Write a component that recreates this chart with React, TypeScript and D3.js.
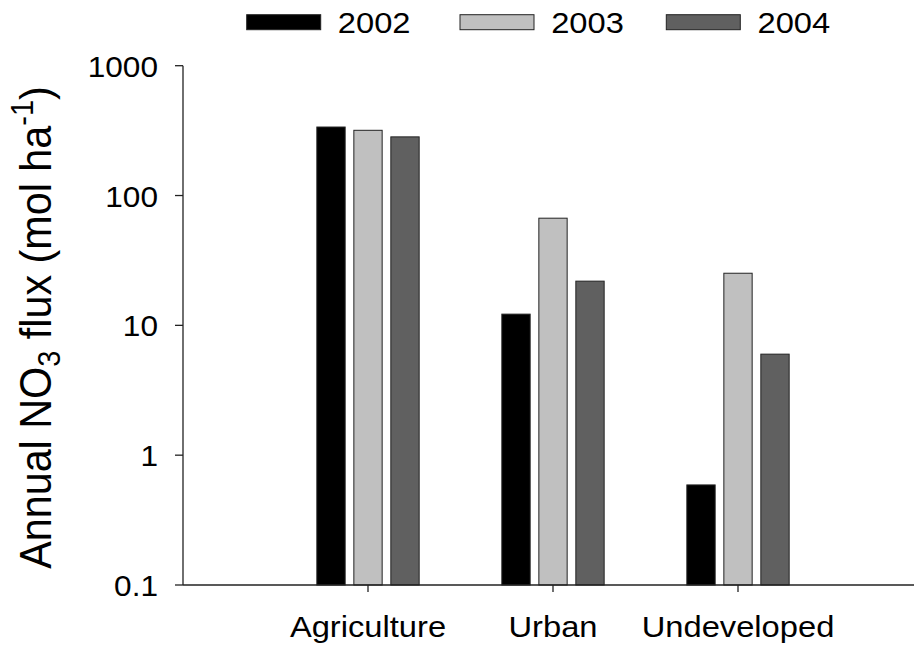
import React from "react";
import * as d3 from "d3";

const categories = ["Agriculture", "Urban", "Undeveloped"];
const years = ["2002", "2003", "2004"];
const values2002 = [337, 12.2, 0.59];
const values2003 = [318, 66.9, 25.2];
const values2004 = [283, 21.9, 6.0];
const yTicks = [0.1, 1, 10, 100, 1000];
const yTickLabels = ["0.1", "1", "10", "100", "1000"];

const seriesValues = [values2002, values2003, values2004];
const colors = ["#000000", "#c0c0c0", "#606060"];

const W = 914;
const H = 646;
const FONT = "'Liberation Sans', Arial, Helvetica, sans-serif";
const SX = 1.09; // horizontal stretch of text in the reference

export default function App() {
  const x = d3.scaleLinear().domain([0, 4]).range([183, 923]);
  const y = d3.scaleLog().domain([0.1, 1000]).range([585, 65.7]);
  const inner = d3
    .scaleBand<string>()
    .domain(years)
    .range([-55.5, 55.5])
    .paddingInner(0.235)
    .paddingOuter(0.1175);

  const legendSwatchX = [246.7, 460, 666.3];
  const legendTextX = [339.3, 552.7, 759];

  return (
    <div style={{ position: "absolute", left: 0, top: 0 }}>
      <svg width={W} height={H} style={{ display: "block", fontFamily: FONT }}>
        <rect x={0} y={0} width={W} height={H} fill="#fff" />
        {/* bars */}
        {categories.map((c, ci) => (
          <g key={c}>
            {years.map((yr, si) => {
              const v = seriesValues[si][ci];
              const bx = x(ci + 1) + (inner(yr) as number);
              const top = y(v);
              return (
                <rect
                  key={yr}
                  x={bx}
                  y={top}
                  width={inner.bandwidth()}
                  height={y(0.1) - top}
                  fill={colors[si]}
                  stroke="#222"
                  strokeWidth={1}
                />
              );
            })}
          </g>
        ))}
        {/* y axis */}
        <line x1={183} x2={183} y1={y(1000)} y2={y(0.1)} stroke="#222" strokeWidth={1.3} />
        {yTicks.map((t, i) => (
          <g key={t}>
            <line x1={175} x2={183} y1={y(t)} y2={y(t)} stroke="#222" strokeWidth={1.3} />
            <g transform={`translate(158,${y(t) + 11}) scale(${SX},1)`}>
              <text x={0} y={0} textAnchor="end" fontSize={29} fill="#000">
                {yTickLabels[i]}
              </text>
            </g>
          </g>
        ))}
        {/* x axis */}
        <line x1={183} x2={x(4)} y1={y(0.1)} y2={y(0.1)} stroke="#222" strokeWidth={1.3} />
        {categories.map((c, ci) => (
          <g key={c}>
            <line
              x1={x(ci + 1)}
              x2={x(ci + 1)}
              y1={y(0.1)}
              y2={y(0.1) + 7}
              stroke="#222"
              strokeWidth={1.3}
            />
            <g transform={`translate(${x(ci + 1)},636.5) scale(${SX},1)`}>
              <text x={0} y={0} textAnchor="middle" fontSize={30} fill="#000">
                {c}
              </text>
            </g>
          </g>
        ))}
        {/* y axis title */}
        <g transform={`translate(50.5,327.5) scale(${SX},1) rotate(-90)`}>
          <text x={0} y={0} textAnchor="middle" fontSize={41.3} fill="#000">
            Annual NO
            <tspan fontSize={29} dy={9}>3</tspan>
            <tspan dy={-9}> flux (mol ha</tspan>
            <tspan fontSize={29} dy={-16}>-1</tspan>
            <tspan dy={16}>)</tspan>
          </text>
        </g>
        {/* legend */}
        {years.map((yr, i) => (
          <g key={yr}>
            <rect
              x={legendSwatchX[i]}
              y={14.7}
              width={74}
              height={15}
              fill={colors[i]}
              stroke="#222"
              strokeWidth={1}
            />
            <g transform={`translate(${legendTextX[i] - 1.5},33.3) scale(${SX},1)`}>
              <text x={0} y={0} fontSize={30} fill="#000">
                {yr}
              </text>
            </g>
          </g>
        ))}
      </svg>
    </div>
  );
}
